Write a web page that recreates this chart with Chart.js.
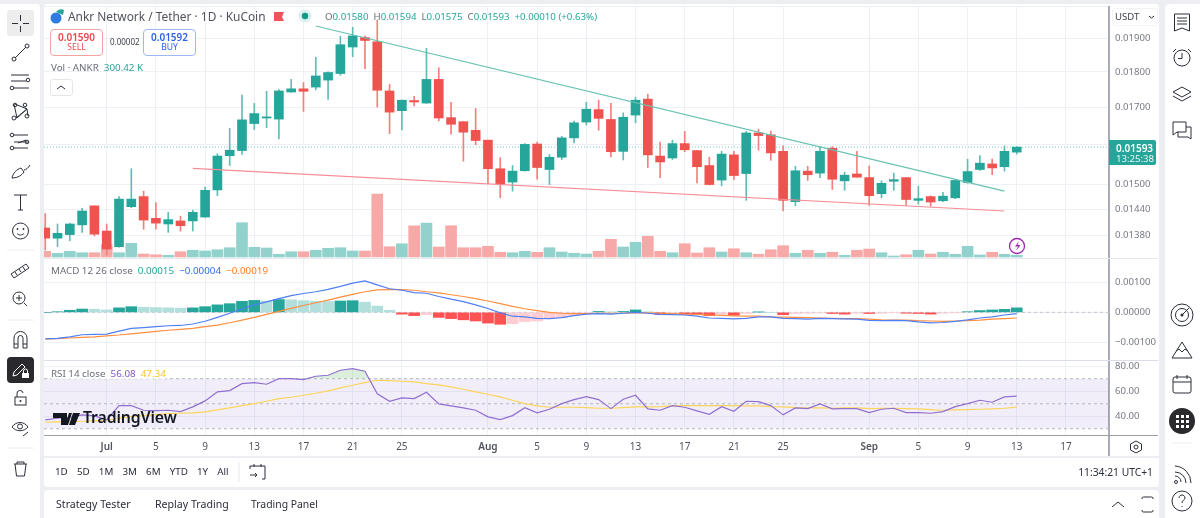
<!DOCTYPE html>
<html>
<head>
<meta charset="utf-8">
<title>ANKR/USDT 1D</title>
<script src="https://cdn.jsdelivr.net/npm/chart.js"></script>
<style>
  html, body { margin: 0; padding: 0; width: 1200px; height: 518px; overflow: hidden; background: #eceef1; }
  body { position: relative; font-family: "Noto Sans", sans-serif; color: #50535e; }
  .box { position: absolute; background: #fff; }
  canvas { position: absolute; left: 44px; display: block; }
  .t { position: absolute; white-space: nowrap; line-height: 1; }
  .line { position: absolute; }
  #icons { position: absolute; left: 0; top: 0; pointer-events: none; }
  #icons .s { fill: none; stroke: #2a2e39; stroke-width: 1; }
  .teal { color: #26a69a; }
  .ohlc { font-size: 9.7px; color: #6a6d78; }
  .legend { font-size: 9.8px; color: #6a6d78; }
</style>
</head>
<body>
<div class="box" style="left:0;top:4px;width:40px;height:514px;border-radius:0 4px 0 0"></div>
<div class="box" style="left:44px;top:4px;width:1115px;height:452px;border-radius:4px 4px 0 0"></div>
<div class="box" style="left:44px;top:458px;width:1115px;height:29px;border-radius:0 0 4px 4px"></div>
<div class="box" style="left:44px;top:490px;width:1115px;height:28px;border-radius:4px 4px 0 0"></div>
<div class="box" style="left:1165px;top:4px;width:35px;height:514px;border-radius:4px 0 0 0"></div>

<canvas id="priceChart" width="1114" height="252" style="top:6px"></canvas>
<canvas id="macdChart" width="1114" height="103" style="top:258px"></canvas>
<canvas id="rsiChart" width="1114" height="95" style="top:361px"></canvas>

<div class="line" style="left:44px;top:258px;width:1114px;height:1px;background:#e6e8ee"></div>
<div class="line" style="left:44px;top:360px;width:1114px;height:1px;background:#dcdde8"></div>
<div class="line" style="left:44px;top:435px;width:1114px;height:1px;background:#9c9fa6"></div>
<div class="line" style="left:1108px;top:436px;width:2px;height:20px;background:#a9acb4"></div>

<div class="t" style="left:68px;top:11px;font-size:11.9px">Ankr Network / Tether · 1D · KuCoin</div>
<div class="t ohlc" style="left:325px;top:12px">O<span class="teal">0.01580</span>&nbsp; H<span class="teal">0.01594</span>&nbsp; L<span class="teal">0.01575</span>&nbsp; C<span class="teal">0.01593</span>&nbsp; <span class="teal">+0.00010 (+0.63%)</span></div>

<div class="box" style="left:50px;top:29px;width:51px;height:25px;border:1px solid #f4a3a3;border-radius:4px"></div>
<div class="t" style="left:50px;top:32px;width:53px;text-align:center;font-size:10px;font-weight:600;color:#f0464a">0.01590</div>
<div class="t" style="left:50px;top:43px;width:53px;text-align:center;font-size:8.6px;color:#f0464a">SELL</div>
<div class="t" style="left:110px;top:38px;font-size:8px;color:#40434e">0.00002</div>
<div class="box" style="left:143px;top:29px;width:51px;height:25px;border:1px solid #9db8f5;border-radius:4px"></div>
<div class="t" style="left:143px;top:32px;width:53px;text-align:center;font-size:10px;font-weight:600;color:#2f62e8">0.01592</div>
<div class="t" style="left:143px;top:43px;width:53px;text-align:center;font-size:8.6px;color:#2f62e8">BUY</div>

<div class="t legend" style="left:51px;top:63px">Vol · ANKR&nbsp; <span class="teal">300.42 K</span></div>
<div class="box" style="left:50px;top:79px;width:21px;height:15px;border:1px solid #e4e6ea;border-radius:3px"></div>

<div class="t legend" style="left:51px;top:266px">MACD 12 26 close&nbsp; <span class="teal">0.00015</span>&nbsp; <span style="color:#2f6bf0">−0.00004</span>&nbsp; <span style="color:#ff7a1f">−0.00019</span></div>
<div class="t legend" style="left:51px;top:369px;background:rgba(255,255,255,.8)">RSI 14 close&nbsp; <span style="color:#7e57c2">56.08</span>&nbsp; <span style="color:#f4c430">47.34</span></div>
<div class="t" style="left:83px;top:410px;font-size:15.8px;font-weight:600;color:#131722;letter-spacing:-.1px">TradingView</div>

<div class="box" style="left:1112px;top:8px;width:46px;height:18px;border-radius:3px;border:1px solid #f2f3f5;box-sizing:border-box"></div>
<div class="t" style="left:1115px;top:12px;font-size:9.6px;color:#40434e">USDT</div>

<div class="box" style="left:1109px;top:140px;width:47px;height:25px;background:#26a69a;border-radius:0 2px 2px 0"></div>
<div class="t" style="left:1116px;top:143px;font-size:10px;font-weight:600;color:#fff">0.01593</div>
<div class="t" style="left:1116px;top:154px;font-size:9.6px;color:#e6f5f3">13:25:38</div>

<div class="t" style="left:55px;top:467px;font-size:9.8px;word-spacing:6.6px;color:#2a2e39">1D 5D 1M 3M 6M YTD 1Y All</div>
<div class="t" style="right:47px;top:467px;font-size:10.3px;color:#2a2e39">11:34:21 UTC+1</div>
<div class="t" style="left:56px;top:499px;font-size:10.6px;color:#2a2e39">Strategy Tester</div>
<div class="t" style="left:155px;top:499px;font-size:10.6px;color:#2a2e39">Replay Trading</div>
<div class="t" style="left:251px;top:499px;font-size:10.4px;color:#2a2e39">Trading Panel</div>

<svg id="icons" width="1200" height="518">
  <!-- symbol row -->
  <circle cx="56" cy="18" r="5.5" fill="#2f7be0"/>
  <path d="M56 12a6 6 0 0 1 8 -2l-1 5z" fill="#26a69a"/>
  <path d="M274 12h10l-2 5 2 4h-10z" fill="#f2525a"/>
  <circle cx="305" cy="16" r="6.5" fill="#d9f0ec"/><circle cx="305" cy="16" r="3.2" fill="#0f9a85"/>
  <path class="s" d="M57 89l4 -3 4 3" stroke-width="1.4"/>
  <path class="s" d="M1149 16l2.5 2 2.5 -2"/>

  <!-- left toolbar -->
  <rect x="7" y="10" width="27" height="26" rx="3" fill="#ededed"/>
  <path class="s" d="M12 23.500h6M23 23.500h6M20.500 15v6M20.500 26v6"/>
  <path class="s" d="M15 58l11 -11"/><circle class="s" cx="14" cy="59" r="2"/><circle class="s" cx="27" cy="46" r="2"/>
  <path class="s" d="M11 75h18M11 81h15M14 88h15"/><circle class="s" cx="28" cy="80" r="1.800"/><circle class="s" cx="12" cy="88" r="1.800"/>
  <path class="s" d="M14 104l3 14 10 -9 -12 -5M27 109l-2 -1M16 118l11 -9 1 7"/><circle class="s" cx="14" cy="118" r="2"/><circle class="s" cx="27" cy="116" r="2"/><circle class="s" cx="15" cy="105" r="1.800"/><circle class="s" cx="25" cy="105" r="1.800"/>
  <path class="s" d="M14 135h14M14 142h14M14 148h14M18 143l8 -3"/><circle class="s" cx="12" cy="135" r="1.800"/><circle class="s" cx="27" cy="142" r="1.800"/><circle class="s" cx="12" cy="148" r="1.800"/>
  <path class="s" d="M12 178c1 -5 5 -9 9 -10l3 4c-2 3 -6 6 -12 6zM24 170c2 0 4 -2 6 -5"/>
  <path class="s" d="M14 195h13M20.500 195v15M18 210h5"/>
  <circle class="s" cx="20.500" cy="231" r="8"/><circle cx="17.500" cy="229" r=".9" fill="#2a2e39"/><circle cx="23.500" cy="229" r=".9" fill="#2a2e39"/><path class="s" d="M17 233.500c2 2 5 2 7 0"/>
  <path class="line-sep" d="M7 250h27M7 320h27M7 448h27" stroke="#eceef1" fill="none"/>
  <path class="s" d="M11 274l15 -10 3 4 -15 10zM15 272l2 3M19 269l2 3M23 267l2 3"/>
  <circle class="s" cx="19" cy="298" r="6"/><path class="s" d="M24 303l3 3M16 298h6M19 295v6"/>
  <path class="s" d="M14 348v-10a6.500 6.500 0 0 1 13 0v10h-4v-10a2.500 2.500 0 0 0 -5 0v10zM14 344h4M23 344h4"/>
  <rect x="7" y="357" width="27" height="26" rx="4" fill="#2a2a2e"/>
  <path d="M13 376l1 -4 8 -8 3 3 -8 8z" fill="none" stroke="#fff"/><rect x="22" y="373" width="7" height="5" fill="#fff"/><path d="M23.500 373v-2a2 2 0 0 1 4 0v2" fill="none" stroke="#fff"/>
  <rect class="s" x="15" y="397" width="11" height="8"/><path class="s" d="M17 397v-3a3 3 0 0 1 6 -1"/><circle cx="20.500" cy="401" r="1" fill="#2a2e39"/>
  <path class="s" d="M12 427c4 -6 12 -6 16 0c-4 5 -12 5 -16 0z"/><circle class="s" cx="20" cy="426.500" r="2.500"/><path class="s" d="M23 436l5 -4"/>
  <path class="s" d="M14 464h13M17 464v-2h7v2M15 464l1.500 12h8l1.500 -12"/>

  <!-- right toolbar -->
  <path class="s" d="M1174.500 14h15v17l-7.500 -3 -7.500 3zM1177 18h10M1177 21h10M1177 24h10"/>
  <circle class="s" cx="1182" cy="58" r="8"/><path class="s" d="M1182 53v5.500h-4M1173 52l3 -3M1191 52l-3 -3"/>
  <path class="s" d="M1173 92l9 -5 9 5 -9 5zM1173 96l9 5 9 -5"/>
  <path class="s" d="M1173 122h13v10h-9l-4 3zM1186 127h5v12l-3 -2h-10v-5"/>
  <circle class="s" cx="1182" cy="315" r="11"/><circle class="s" cx="1182" cy="315" r="6.500"/><circle cx="1182" cy="315" r="1.500" fill="#2a2e39"/><path class="s" d="M1182 315l7 -7"/>
  <path class="s" d="M1172 358l10 -16 10 16zM1176 351l3 -2 3 3 3 -3 3 2"/>
  <rect class="s" x="1173" y="377" width="18" height="16" rx="2"/><path class="s" d="M1173 382h18M1177 375v4M1187 375v4"/>
  <circle cx="1182" cy="421" r="13" fill="#2a2a2e"/>
  <path d="M1176 415h3v3h-3zM1181 415h3v3h-3zM1186 415h3v3h-3zM1176 420h3v3h-3zM1181 420h3v3h-3zM1186 420h3v3h-3zM1176 425h3v3h-3zM1181 425h3v3h-3zM1186 425h3v3h-3z" fill="#fff"/>
  <path d="M1172 443h20" stroke="#eceef1" fill="none"/>
  <path class="s" d="M1175 472a11 11 0 0 1 11 11M1175 466a17 17 0 0 1 16 17M1175 476a6 6 0 0 1 6 6"/><circle class="s" cx="1176" cy="482" r="1.500"/>
  <circle class="s" cx="1182" cy="501" r="10"/><path class="s" d="M1179 498c0 -4 6 -4 6 0c0 2 -3 2 -3 5M1182 506v1"/>

  <!-- bottom bars -->
  <path class="s" d="M1112 507l6 -5 6 5"/>
  <path class="s" d="M1142 499v-1a1.500 1.500 0 0 1 1.500 -1h8a1.500 1.500 0 0 1 1.500 1v1M1142 510v1a1.500 1.500 0 0 0 1.500 1h8a1.500 1.500 0 0 0 1.500 -1v-1"/>
  <path d="M239 462v20" stroke="#e6e8ec" fill="none"/>
  <path class="s" d="M250 466h15v13h-3M250 466v3M254 464v3M261 464v3M250 475h7M255 473l2 2 -2 2"/>
  <path class="s" d="M1136 441l5.500 3v6l-5.500 3 -5.500 -3v-6z"/><circle class="s" cx="1136" cy="447" r="2"/>

  <!-- logo over the oscillator pane -->
  <path d="M53 413h14v12h-6v-7h-8zM69 413h3l-4 12h-3zM73 413h7l-5 12h-6z" fill="#131722"/>

  <!-- flash marker -->
  <circle cx="1017" cy="246" r="7.500" fill="#fff" stroke="#9c27b0" stroke-width="1.300"/>
  <path d="M1019 241l-4 5.500h3l-2 4.500 4.500 -6h-3z" fill="#9c27b0"/>
</svg>

<script>
// daily candles, index 0 is Jun 26
const opens = [0.01397,0.01374,0.01382,0.01404,0.01448,0.01390,0.01355,0.01446,0.01470,0.01419,0.01406,0.01413,0.01413,0.01422,0.01486,0.01571,0.01584,0.01655,0.01670,0.01667,0.01742,0.01751,0.01756,0.01776,0.01795,0.01874,0.01903,0.01890,0.01745,0.01690,0.01718,0.01711,0.01778,0.01671,0.01660,0.01637,0.01611,0.01538,0.01505,0.01533,0.01601,0.01536,0.01567,0.01617,0.01659,0.01693,0.01666,0.01582,0.01678,0.01722,0.01570,0.01565,0.01602,0.01584,0.01546,0.01510,0.01573,0.01526,0.01630,0.01625,0.01582,0.01458,0.01532,0.01527,0.01590,0.01508,0.01525,0.01516,0.01477,0.01507,0.01516,0.01461,0.01470,0.01460,0.01467,0.01504,0.01536,0.01550,0.01543,0.01580];
const highs = [0.01430,0.01406,0.01408,0.01442,0.01448,0.01406,0.01470,0.01538,0.01483,0.01456,0.01433,0.01424,0.01438,0.01493,0.01576,0.01642,0.01733,0.01710,0.01744,0.01749,0.01778,0.01769,0.01843,0.01800,0.01907,0.01935,0.01908,0.01958,0.01764,0.01719,0.01730,0.01870,0.01812,0.01713,0.01660,0.01696,0.01611,0.01566,0.01546,0.01602,0.01606,0.01574,0.01621,0.01662,0.01713,0.01719,0.01710,0.01684,0.01727,0.01736,0.01606,0.01611,0.01634,0.01584,0.01567,0.01582,0.01582,0.01634,0.01640,0.01635,0.01596,0.01544,0.01544,0.01594,0.01594,0.01529,0.01582,0.01545,0.01508,0.01527,0.01516,0.01495,0.01472,0.01480,0.01511,0.01562,0.01571,0.01562,0.01596,0.01594];
const lows = [0.01348,0.01355,0.01368,0.01387,0.01379,0.01337,0.01354,0.01444,0.01394,0.01394,0.01387,0.01390,0.01390,0.01421,0.01472,0.01546,0.01574,0.01639,0.01644,0.01614,0.01741,0.01688,0.01748,0.01721,0.01790,0.01845,0.01809,0.01700,0.01628,0.01638,0.01703,0.01710,0.01662,0.01627,0.01557,0.01599,0.01502,0.01467,0.01483,0.01532,0.01512,0.01499,0.01561,0.01604,0.01651,0.01637,0.01568,0.01560,0.01657,0.01541,0.01516,0.01561,0.01581,0.01503,0.01498,0.01496,0.01511,0.01461,0.01585,0.01559,0.01436,0.01448,0.01509,0.01516,0.01487,0.01485,0.01517,0.01449,0.01467,0.01485,0.01449,0.01452,0.01447,0.01458,0.01465,0.01502,0.01534,0.01523,0.01532,0.01575];
const closes = [0.01374,0.01385,0.01406,0.01436,0.01383,0.01350,0.01464,0.01464,0.01415,0.01408,0.01416,0.01402,0.01433,0.01485,0.01570,0.01585,0.01665,0.01682,0.01673,0.01745,0.01751,0.01744,0.01788,0.01798,0.01881,0.01908,0.01894,0.01747,0.01686,0.01719,0.01714,0.01778,0.01670,0.01653,0.01632,0.01610,0.01538,0.01501,0.01532,0.01600,0.01541,0.01567,0.01617,0.01657,0.01694,0.01669,0.01581,0.01672,0.01719,0.01573,0.01555,0.01602,0.01586,0.01543,0.01499,0.01575,0.01521,0.01630,0.01623,0.01578,0.01461,0.01533,0.01523,0.01582,0.01512,0.01522,0.01517,0.01472,0.01502,0.01511,0.01463,0.01465,0.01457,0.01471,0.01509,0.01531,0.01552,0.01540,0.01582,0.01593];
const volumes = [1030,670,1030,770,770,2210,770,2470,540,410,310,950,1210,1080,1310,1670,6170,1750,1620,490,950,950,1210,1570,1670,1080,1080,11340,1850,2380,5610,6100,1800,5630,1670,1670,1930,850,770,1030,850,1670,900,670,540,1030,3190,1800,2650,3730,1030,770,2390,720,1670,900,1490,770,500,1310,2030,670,1210,670,850,310,1210,1440,770,180,410,1210,540,850,490,1930,360,850,490,300.42];

const macdLine = [-0.00089,-0.00087,-0.00082,-0.00075,-0.00074,-0.00073,-0.00063,-0.00054,-0.00051,-0.00048,-0.00045,-0.00044,-0.00039,-0.00030,-0.00017,-0.00003,0.00011,0.00025,0.00035,0.00046,0.00056,0.00063,0.00069,0.00077,0.00087,0.00098,0.00105,0.00092,0.00079,0.00074,0.00066,0.00064,0.00053,0.00044,0.00036,0.00025,0.00013,-0.00002,-0.00013,-0.00015,-0.00020,-0.00021,-0.00018,-0.00011,-0.00006,-0.00004,-0.00006,-0.00003,0.00000,-0.00003,-0.00007,-0.00008,-0.00009,-0.00013,-0.00019,-0.00020,-0.00022,-0.00020,-0.00015,-0.00015,-0.00020,-0.00021,-0.00023,-0.00020,-0.00021,-0.00022,-0.00023,-0.00027,-0.00028,-0.00027,-0.00028,-0.00032,-0.00035,-0.00034,-0.00030,-0.00025,-0.00019,-0.00015,-0.00009,-0.00004];
const signalLine = [-0.00089,-0.00088,-0.00086,-0.00084,-0.00082,-0.00079,-0.00076,-0.00072,-0.00068,-0.00064,-0.00060,-0.00057,-0.00054,-0.00048,-0.00043,-0.00035,-0.00026,-0.00017,-0.00007,0.00003,0.00013,0.00023,0.00032,0.00041,0.00051,0.00060,0.00069,0.00075,0.00077,0.00076,0.00074,0.00069,0.00065,0.00059,0.00053,0.00046,0.00038,0.00029,0.00020,0.00012,0.00006,0.00000,-0.00003,-0.00004,-0.00004,-0.00003,-0.00003,-0.00003,-0.00002,-0.00002,-0.00003,-0.00004,-0.00006,-0.00007,-0.00009,-0.00010,-0.00012,-0.00013,-0.00013,-0.00015,-0.00016,-0.00017,-0.00018,-0.00019,-0.00020,-0.00021,-0.00021,-0.00023,-0.00025,-0.00026,-0.00026,-0.00028,-0.00029,-0.00030,-0.00029,-0.00028,-0.00026,-0.00023,-0.00021,-0.00019];
const macdHist = [0.00000,0.00002,0.00007,0.00011,0.00010,0.00008,0.00015,0.00019,0.00017,0.00016,0.00015,0.00014,0.00015,0.00019,0.00025,0.00029,0.00037,0.00040,0.00038,0.00043,0.00042,0.00039,0.00037,0.00036,0.00038,0.00039,0.00034,0.00021,0.00007,-0.00006,-0.00011,-0.00008,-0.00017,-0.00021,-0.00025,-0.00029,-0.00036,-0.00040,-0.00038,-0.00031,-0.00029,-0.00020,-0.00016,-0.00011,-0.00003,0.00003,0.00001,0.00003,0.00008,0.00002,-0.00007,-0.00003,-0.00006,-0.00007,-0.00011,-0.00007,-0.00010,-0.00004,0.00001,0.00000,-0.00008,-0.00004,-0.00003,-0.00002,-0.00004,-0.00006,-0.00003,-0.00004,-0.00003,-0.00001,-0.00003,-0.00004,-0.00006,-0.00003,-0.00001,0.00002,0.00006,0.00008,0.00010,0.00015];

const rsiLine = [37.1,38.4,39.2,41.1,40.3,37.1,48.5,48.5,44.8,44.5,44.8,43.7,47.5,52.3,59.5,60.5,66.1,66.9,65.6,70.1,70.1,69.3,72.0,72.8,76.8,78.1,76.0,57.9,52.0,54.7,54.1,59.2,49.9,48.3,46.7,44.8,39.5,37.3,40.5,46.9,42.7,45.6,50.1,53.3,55.7,53.3,46.1,53.6,56.8,45.9,44.8,48.5,47.2,44.3,41.6,47.7,44.0,52.0,51.7,48.5,41.1,46.7,46.1,49.9,45.9,46.1,46.1,42.9,45.6,46.4,42.9,42.9,42.4,43.7,47.7,50.1,52.8,51.2,55.5,56.08];
const rsiMa = [35.2,35.5,35.7,36.0,36.3,36.8,38.4,39.7,40.5,41.3,42.1,42.4,42.7,43.5,45.1,46.7,48.5,50.1,52.0,54.1,55.2,56.8,58.4,60.3,62.7,64.8,66.9,68.8,68.5,68.0,67.5,66.1,65.1,63.5,61.6,59.5,57.6,55.5,52.8,50.1,48.3,47.2,47.2,47.2,46.9,46.4,46.4,46.9,47.5,47.5,47.7,48.3,48.5,48.5,48.5,48.5,48.5,48.3,48.3,47.7,47.5,46.9,46.7,46.7,46.4,46.7,46.7,46.1,46.4,46.4,46.1,45.9,45.3,44.8,45.1,45.3,45.6,45.9,46.4,47.34];

const resistanceDays = [22, 78];
const resistancePrices = [0.01939, 0.01483];
const supportDays = [12, 78];
const supportPrices = [0.01539, 0.01436];
const lastPrice = 0.01593;

const dayTicks = [5, 9, 13, 17, 21, 25, 29, 36, 40, 44, 48, 52, 56, 60, 67, 71, 75, 79, 83];
const dayLabels = ['Jul', '5', '9', '13', '17', '21', '25', 'Aug', '5', '9', '13', '17', '21', '25', 'Sep', '5', '9', '13', '17'];
const priceTicks = [0.02, 0.019, 0.018, 0.017, 0.016, 0.015, 0.0144, 0.0138];
const priceTickLabels = ['', '0.01900', '0.01800', '0.01700', '', '0.01500', '0.01440', '0.01380'];
const macdTicks = [0.001, 0, -0.001];
const macdTickLabels = ['0.00100', '0.00000', '−0.00100'];
const rsiTicks = [80, 60, 40];
const rsiTickLabels = ['80.00', '60.00', '40.00'];

const UP = '#26a69a';
const DOWN = '#ef5350';
const GRID = '#edf1f6';
const FONT = '"Noto Sans", sans-serif';
const firstDay = -0.1;
const lastDay = 86.5;

const days = opens.map((_, i) => i);
const isUp = i => closes[i] >= opens[i];
const points = (xs, ys) => xs.map((x, i) => ({ x, y: ys[i] }));
const flat = value => [{ x: firstDay, y: value }, { x: lastDay, y: value }];

function xAxis(showLabels) {
    return {
        type: 'linear',
        min: firstDay,
        max: lastDay,
        offset: false,
        afterBuildTicks: scale => { scale.ticks = dayTicks.map(value => ({ value })); },
        afterFit: scale => { scale.height = showLabels ? 20 : 0; },
        border: { display: false },
        grid: { color: GRID, drawTicks: false, offset: false },
        ticks: {
            display: showLabels,
            autoSkip: false,
            maxRotation: 0,
            padding: 5,
            color: '#50535e',
            font: ctx => ({ family: FONT, size: 10, weight: isNaN(dayLabels[ctx.index]) ? '600' : '400' }),
            callback: (value, index) => dayLabels[index]
        }
    };
}

function yAxis(tickValues, tickLabels, extra) {
    return Object.assign({
        position: 'right',
        bounds: 'data',
        afterBuildTicks: scale => { scale.ticks = tickValues.map(value => ({ value })); },
        afterFit: scale => {
            scale.width = 49;
            scale.paddingTop = 0;
            scale.paddingBottom = 0;
        },
        border: { color: '#a9acb4', width: 2 },
        grid: { color: GRID, drawTicks: false },
        ticks: {
            autoSkip: false,
            padding: 6,
            color: '#787b86',
            font: { family: FONT, size: 9.6 },
            callback: (value, index) => tickLabels[index]
        }
    }, extra);
}

const baseOptions = {
    responsive: false,
    animation: false,
    events: [],
    layout: { padding: 0 },
    plugins: { legend: { display: false }, tooltip: { enabled: false } }
};

new Chart(document.getElementById('priceChart'), {
    type: 'bar',
    data: {
        datasets: [
            {
                type: 'line', order: 0, yAxisID: 'y', data: points(resistanceDays, resistancePrices),
                borderColor: '#67c2b2', borderWidth: 1.2, pointRadius: 0
            },
            {
                type: 'line', order: 0, yAxisID: 'y', data: points(supportDays, supportPrices),
                borderColor: '#f88c96', borderWidth: 1.2, pointRadius: 0
            },
            {
                order: 1, yAxisID: 'y', grouped: false, barThickness: 9, minBarLength: 1,
                data: days.map(i => ({ x: i, y: [opens[i], closes[i]] })),
                backgroundColor: days.map(i => isUp(i) ? UP : DOWN)
            },
            {
                order: 2, yAxisID: 'y', grouped: false, barThickness: 1,
                data: days.map(i => ({ x: i, y: [lows[i], highs[i]] })),
                backgroundColor: days.map(i => isUp(i) ? '#5fbdb3' : '#f57f7c')
            },
            {
                order: 3, yAxisID: 'yVol', grouped: false, barThickness: 11,
                data: points(days, volumes),
                backgroundColor: days.map(i => isUp(i) ? '#92d2cc' : '#f7a9a7')
            },
            {
                type: 'line', order: 4, yAxisID: 'y', data: flat(lastPrice),
                borderColor: '#7fcabf', borderWidth: 1, borderDash: [1, 2], pointRadius: 0
            }
        ]
    },
    options: Object.assign({}, baseOptions, {
        scales: {
            x: xAxis(false),
            y: yAxis(priceTicks, priceTickLabels, { type: 'logarithmic', min: 0.013305, max: 0.02003 }),
            yVol: { type: 'linear', display: false, min: -180, max: 45180 }
        }
    })
});

// histogram shade follows the direction of each bar against the previous one
const histColor = i => {
    const rising = i === 0 || macdHist[i] > macdHist[i - 1];
    if (macdHist[i] >= 0) return rising ? UP : '#b2dfdb';
    return rising ? '#ffcdd2' : '#ff5252';
};

new Chart(document.getElementById('macdChart'), {
    type: 'bar',
    data: {
        datasets: [
            {
                type: 'line', order: 0, data: points(days, macdLine),
                borderColor: '#4f7ff5', borderWidth: 1.2, pointRadius: 0, tension: 0
            },
            {
                type: 'line', order: 0, data: points(days, signalLine),
                borderColor: '#ff8f3f', borderWidth: 1.2, pointRadius: 0, tension: 0
            },
            {
                order: 1, barThickness: 11,
                data: points(days, macdHist),
                backgroundColor: days.map(histColor)
            },
            {
                type: 'line', order: 2, data: flat(0),
                borderColor: '#c4c6ce', borderWidth: 1, borderDash: [3, 3], pointRadius: 0
            }
        ]
    },
    options: Object.assign({}, baseOptions, {
        scales: {
            x: xAxis(false),
            y: yAxis(macdTicks, macdTickLabels, { type: 'linear', min: -0.00163, max: 0.00182 })
        }
    })
});

new Chart(document.getElementById('rsiChart'), {
    type: 'line',
    data: {
        datasets: [
            {
                order: 0, data: points(days, rsiLine),
                borderColor: '#8f6fd0', borderWidth: 1.2, pointRadius: 0, tension: 0,
                fill: { target: { value: 70 }, above: 'rgba(76,175,80,.2)', below: 'transparent' }
            },
            {
                order: 1, data: points(days, rsiMa),
                borderColor: '#fbd55a', borderWidth: 1.2, pointRadius: 0, tension: 0
            },
            {
                order: 3, data: flat(70),
                borderColor: '#b4b6be', borderWidth: 1, borderDash: [3, 3], pointRadius: 0,
                fill: { target: { value: 30 }, above: 'rgba(126,87,194,.1)', below: 'transparent' }
            },
            {
                order: 2, data: flat(50),
                borderColor: '#b4b6be', borderWidth: 1, borderDash: [3, 3], pointRadius: 0
            },
            {
                order: 2, data: flat(30),
                borderColor: '#b4b6be', borderWidth: 1, borderDash: [3, 3], pointRadius: 0
            }
        ]
    },
    options: Object.assign({}, baseOptions, {
        scales: {
            x: xAxis(true),
            y: yAxis(rsiTicks, rsiTickLabels, { type: 'linear', min: 24.2, max: 84.2 })
        }
    })
});
</script>
</body>
</html>
